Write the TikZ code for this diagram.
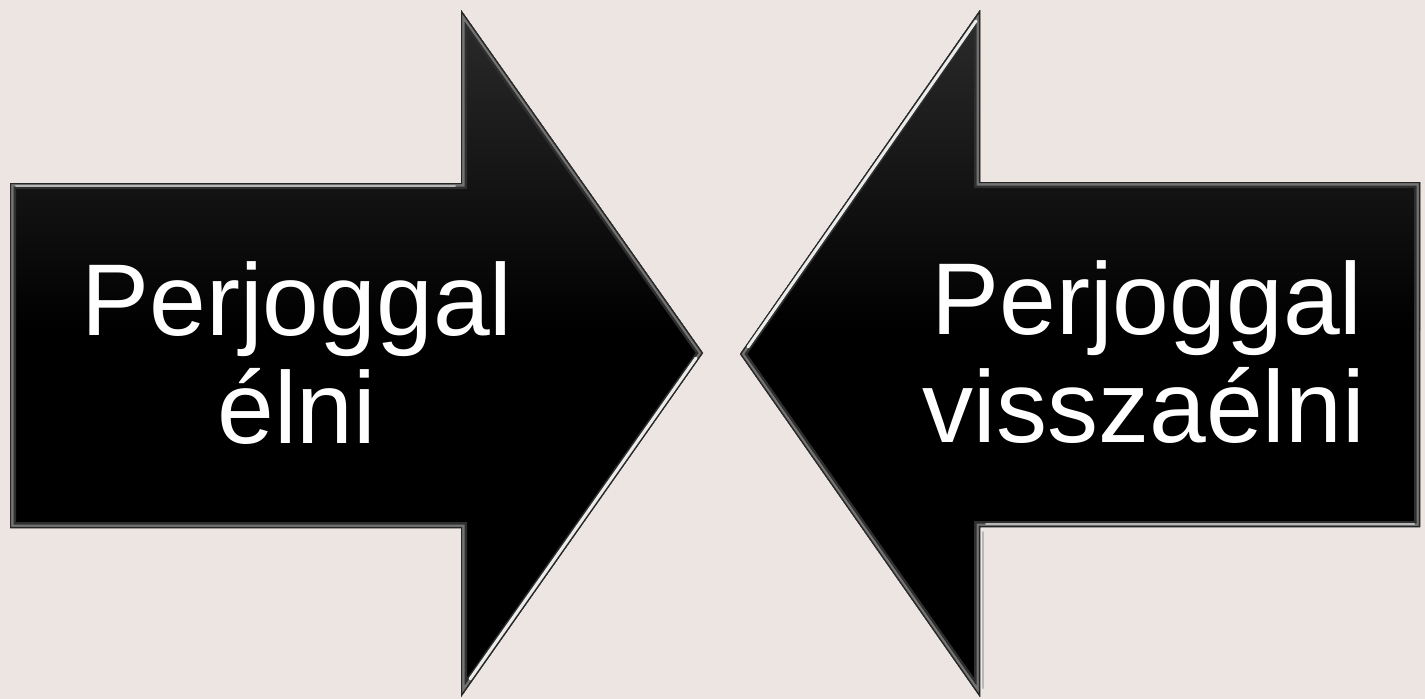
\documentclass[tikz,border=0pt]{standalone}
\usepackage{fontspec}
\setmainfont{Liberation Sans}
\definecolor{bg}{RGB}{236,229,226}
\tikzset{
  bodyglow/.style={top color=black!83, bottom color=black},
  bandout/.style={line width=12pt, draw=black!82},
  bandin/.style={line width=7pt, draw=black!55},
  rim/.style={line width=2.4pt, draw=black!85},
  shine/.style={line width=3pt, draw=white!92!black, line cap=round},
  softshine/.style={line width=2pt, draw=white!72!black, line cap=round},
  label/.style={text=white, font=\fontsize{102}{108}\selectfont, anchor=base, inner sep=0pt}
}
\begin{document}
\begin{tikzpicture}[x=1pt,y=-1pt]
\fill[bg] (0,0) rectangle (1425,699);
\useasboundingbox (0,0) rectangle (1425,699);
% left arrow
\def\larrow{(10,183) -- (461,183) -- (461,10) -- (703,353) -- (461,697) -- (461,528) -- (10,528) -- cycle}
\fill[black] \larrow;
\begin{scope}
  \clip \larrow;
  \shade[bodyglow] (0,10) rectangle (720,330);
  \draw[bandout] \larrow;
  \draw[bandin] \larrow;
  \draw[rim] \larrow;
\end{scope}
\coordinate (ls1) at (696,358);
\coordinate (ls2) at (470,679);
\draw[shine] (ls1) -- (ls2);
\coordinate (lt1) at (16,186);
\coordinate (lt2) at (455,186);
\draw[softshine] (lt1) -- (lt2);
% right arrow
\def\rarrow{(1420,182) -- (980,182) -- (980,10) -- (740,354) -- (980,697) -- (980,527) -- (1420,527) -- cycle}
\fill[black] \rarrow;
\begin{scope}
  \clip \rarrow;
  \shade[bodyglow] (720,10) rectangle (1425,330);
  \draw[bandout] \rarrow;
  \draw[bandin] \rarrow;
  \draw[rim] \rarrow;
\end{scope}
\coordinate (rs1) at (976,21);
\coordinate (rs2) at (748,347);
\draw[shine] (rs1) -- (rs2);
\coordinate (rb1) at (986,524);
\coordinate (rb2) at (1414,524);
\draw[softshine] (rb1) -- (rb2);
\coordinate (rv1) at (983,532);
\coordinate (rv2) at (983,688);
\draw[softshine] (rv1) -- (rv2);
% texts
\node[label] (l1) at (297,335) {Perjoggal};
\node[label] (l2) at (297,443) {élni};
\node[label] (r1) at (1147,334) {Perjoggal};
\node[label] (r2) at (1144,442) {visszaélni};
\end{tikzpicture}
\end{document}
